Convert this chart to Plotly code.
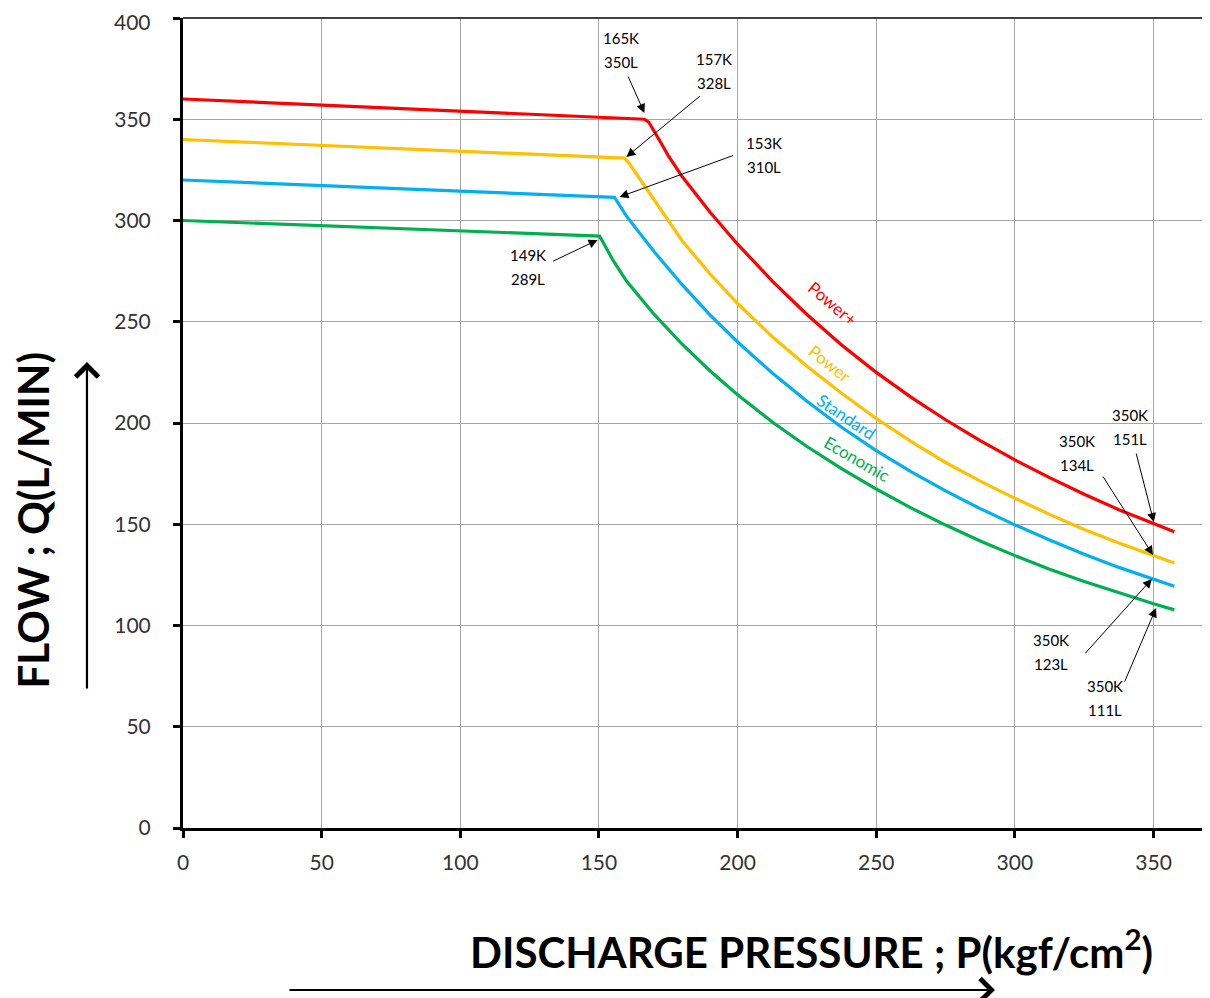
import plotly.graph_objects as go

# ---------------- data ----------------
power_plus_x = [0, 50, 100, 150, 166.4, 168, 170, 172.5, 175, 177.5, 180, 190, 200, 212.5, 225, 237.5, 250,
                262.5, 275, 287.5, 300, 312.5, 325, 337.5, 350, 357.5]
power_plus_y = [360, 357, 354, 351, 350, 348.5, 344, 338, 332, 326.8, 321.7, 304.2, 288.3, 270.1, 253.6, 238.5, 225,
                212.8, 201.6, 191.3, 181.8, 173.0, 164.8, 157.2, 150.3, 146.3]

power_x = [0, 50, 100, 159.2, 161, 165, 170, 175, 180, 190, 200, 212.5, 225, 237.5, 250,
           262.5, 275, 287.5, 300, 312.5, 325, 337.5, 350, 357.5]
power_y = [340, 337.1, 334.2, 330.8, 328, 320, 309.4, 299.4, 290, 273.7, 259, 242.6, 228, 214.7, 202.2,
           190.9, 180.5, 171.3, 162.8, 154.9, 147.4, 140.7, 134.7, 130.9]

standard_x = [0, 50, 100, 155.6, 157, 160, 170, 180, 190, 200, 212.5, 225, 237.5, 250,
              262.5, 275, 287.5, 300, 312.5, 325, 337.5, 350, 357.5]
standard_y = [320, 317.2, 314.5, 311.4, 308.5, 302, 284.4, 268.3, 253.4, 240, 224.7, 210.7, 197.9, 186.4,
              176, 166.5, 157.7, 149.7, 142.2, 135.2, 128.7, 122.7, 119.4]

economic_x = [0, 50, 100, 150.2, 152, 155, 160, 170, 180, 190, 200, 212.5, 225, 237.5, 250,
              262.5, 275, 287.5, 300, 312.5, 325, 337.5, 350, 357.5]
economic_y = [300, 297.4, 294.9, 292.3, 288, 280.5, 270, 253.5, 238.9, 225.8, 214, 200.5, 188.4, 177.5, 167.4,
              158.1, 149.6, 141.7, 134.5, 127.8, 121.7, 116, 110.7, 107.7]

series_names = ["Power+", "Power", "Standard", "Economic"]
series_colors = ["#FF0000", "#FFC000", "#00B0F0", "#00B050"]

x_ticks = [0, 50, 100, 150, 200, 250, 300, 350]
y_ticks = [0, 50, 100, 150, 200, 250, 300, 350, 400]
y_top_tick = y_ticks[-1]

# callouts: pressure (K), flow (L), arrow head point, text centre, arrow tail offset (px)
callout_k = ["165K", "157K", "153K", "149K", "350K", "350K", "350K", "350K"]
callout_l = ["350L", "328L", "310L", "289L", "151L", "134L", "123L", "111L"]
callout_head_x = [166.4, 159.9, 157.4, 149.5, 350.1, 349.8, 349.4, 350.9]
callout_head_y = [353.1, 331.4, 311.6, 290.4, 151.1, 134.8, 123.0, 108.6]
callout_text_x = [157.8, 191.6, 209.7, 124.3, 341.5, 322.4, 313.0, 332.5]
callout_text_y = [384.2, 373.8, 332.3, 277.0, 198.0, 185.2, 86.9, 64.2]
callout_ax = [-17, 75, 115, -46, -18, -51, -68, -32]
callout_ay = [-38, -62, -42, 22, -70, -80, 76, 75]

# in-chart series labels
label_x = [234.3, 233.3, 239.1, 242.9]
label_y = [259.1, 229.5, 203.1, 182.6]
label_angle = [40, 38, 34, 30]

FONT = "Lato"
TICK_FONT = dict(family=FONT, size=21, color="#333333")

fig = go.Figure()
for xs, ys, name, col in zip(
    [power_plus_x, power_x, standard_x, economic_x],
    [power_plus_y, power_y, standard_y, economic_y],
    series_names, series_colors):
    fig.add_trace(go.Scatter(x=xs, y=ys, mode="lines", name=name,
                             line=dict(color=col, width=3.2), showlegend=False))

annotations = []
for i in range(len(callout_k)):
    annotations.append(dict(x=callout_head_x[i], y=callout_head_y[i], xref="x", yref="y",
                            text="", showarrow=True, ax=callout_ax[i], ay=callout_ay[i],
                            arrowhead=2, arrowsize=1.8, arrowwidth=1, arrowcolor="#000000"))
    annotations.append(dict(x=callout_text_x[i], y=callout_text_y[i], xref="x", yref="y",
                            text=callout_k[i], showarrow=False, yshift=12,
                            font=dict(family=FONT, size=15, color="#000000")))
    annotations.append(dict(x=callout_text_x[i], y=callout_text_y[i], xref="x", yref="y",
                            text=callout_l[i], showarrow=False, yshift=-12,
                            font=dict(family=FONT, size=15, color="#000000")))

for name, col, lx, ly, ang in zip(series_names, series_colors, label_x, label_y, label_angle):
    annotations.append(dict(x=lx, y=ly, xref="x", yref="y", text=name, showarrow=False,
                            textangle=ang, font=dict(family=FONT, size=17, color=col)))

# top y tick label, nudged down slightly so it stays inside the page
annotations.append(dict(x=0, y=y_top_tick, xref="paper", yref="y", xanchor="right", yanchor="middle",
                        xshift=-30, yshift=-3, text=str(y_top_tick), showarrow=False, font=TICK_FONT))

# axis titles and arrows (paper coordinates)
annotations.append(dict(x=-0.146, y=0.380, xref="paper", yref="paper", xanchor="center", yanchor="middle",
                        text="<b>FLOW ; Q(L/MIN)</b>",
                        showarrow=False, textangle=-90, font=dict(family=FONT, size=42, color="#000000")))
annotations.append(dict(x=0.613, y=-0.150, xref="paper", yref="paper", xanchor="center", yanchor="middle",
                        text="<b>DISCHARGE PRESSURE ; P(kgf/cm<sup>2</sup>)</b>",
                        showarrow=False, font=dict(family=FONT, size=42, color="#000000")))
annotations.append(dict(x=-0.0936, y=0.5753, xref="paper", yref="paper", text="", showarrow=True,
                        ax=0, ay=328, arrowhead=4, arrowsize=2, arrowwidth=2.2, arrowcolor="#000000"))
annotations.append(dict(x=0.7914, y=-0.2, xref="paper", yref="paper", text="", showarrow=True,
                        ax=-707, ay=0, arrowhead=4, arrowsize=2, arrowwidth=2.2, arrowcolor="#000000"))

axis_common = dict(showgrid=True, gridcolor="#A6A6A6", gridwidth=1, zeroline=False,
                   showline=True, linecolor="#000000", linewidth=3,
                   ticks="outside", ticklen=7, tickwidth=3, tickcolor="#000000",
                   ticklabeloverflow="allow", automargin=False,
                   tickfont=TICK_FONT)

y_tick_text = [str(v) for v in y_ticks[:-1]] + [""]

# page body has an 8px margin -> figure is 8px smaller and margins shifted accordingly
fig.update_layout(
    width=1202, height=990,
    margin=dict(l=175, r=1, t=10, b=170),
    paper_bgcolor="#FFFFFF", plot_bgcolor="#FFFFFF",
    xaxis=dict(range=[0, 370], tickvals=x_ticks, ticklabelstandoff=7, **axis_common),
    yaxis=dict(range=[0, 400], tickvals=y_ticks, ticktext=y_tick_text, ticklabelstandoff=18, **axis_common),
    annotations=annotations,
    shapes=[dict(type="line", xref="paper", yref="paper", x0=0, x1=1, y0=1, y1=1,
                 line=dict(color="#404040", width=2)),
            dict(type="line", xref="paper", yref="paper", x0=1, x1=1, y0=0, y1=1,
                 line=dict(color="#404040", width=2))],
)

fig.write_html("out.html")
